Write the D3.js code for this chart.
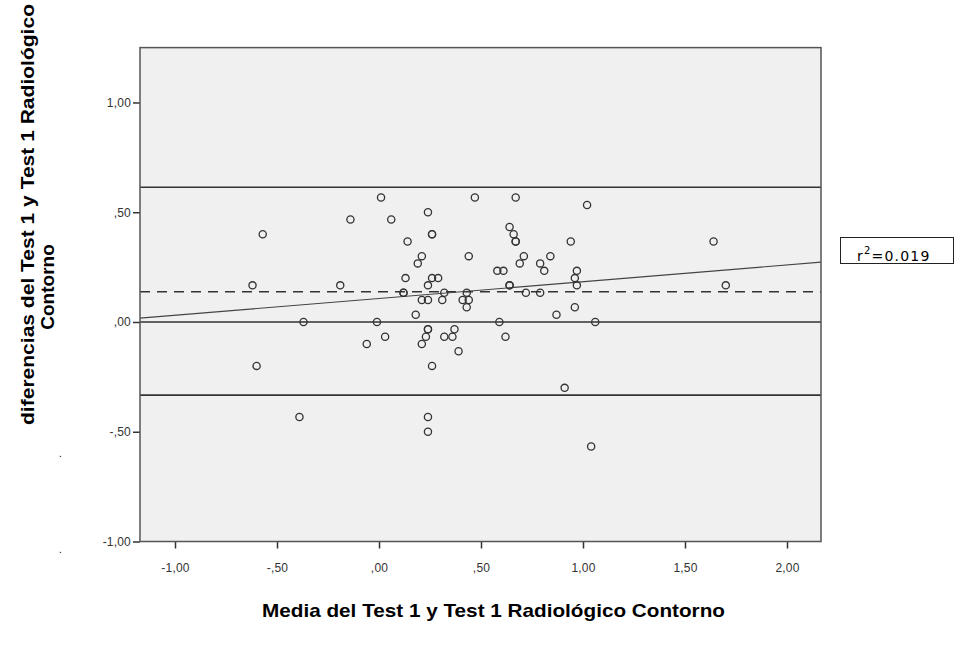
<!DOCTYPE html>
<html>
<head>
<meta charset="utf-8">
<script src="https://cdn.jsdelivr.net/npm/d3@7"></script>
<style>
  body { margin: 0; background: #fff; }
  svg { display: block; font-family: "Liberation Sans", Arial, sans-serif; }
</style>
</head>
<body>
<svg width="955" height="646"></svg>
<script>
// media de las dos pruebas (x) y diferencia (y)
const mediaX = [
  0.01, 0.47, 0.24, -0.14, 0.06, -0.57, 0.26, 0.26, 0.14, 0.21, 0.44, 0.19,
  0.13, 0.26, 0.29, -0.62, -0.19, 0.24, 0.12, 0.12, 0.32, 0.43, 0.21, 0.24,
  0.31, 0.41, 0.44, 0.43, 0.18,
  0.67, 1.02, 0.64, 0.66, 0.67, 0.67, 0.94, 1.64, 0.71, 0.84, 0.69, 0.79,
  0.58, 0.61, 0.81, 0.97, 0.96, 0.64, 0.64, 0.97, 1.70, 0.72, 0.79, 0.96, 0.87,
  -0.37, -0.01, 0.59, 1.06, 0.24, 0.24, 0.37, 0.03, 0.23, 0.32, 0.36, 0.62,
  -0.06, 0.21, 0.39, -0.60, 0.26, 0.91, -0.39, 0.24, 0.24, 1.04
];
const diferencia = [
  0.567, 0.567, 0.5, 0.467, 0.467, 0.4, 0.4, 0.4, 0.367, 0.3, 0.3, 0.267,
  0.2, 0.2, 0.2, 0.167, 0.167, 0.167, 0.133, 0.133, 0.133, 0.133, 0.1, 0.1,
  0.1, 0.1, 0.1, 0.067, 0.033,
  0.567, 0.533, 0.433, 0.4, 0.367, 0.367, 0.367, 0.367, 0.3, 0.3, 0.267, 0.267,
  0.233, 0.233, 0.233, 0.233, 0.2, 0.167, 0.167, 0.167, 0.167, 0.133, 0.133, 0.067, 0.033,
  0, 0, 0, 0, -0.033, -0.033, -0.033, -0.067, -0.067, -0.067, -0.067, -0.067,
  -0.1, -0.1, -0.133, -0.2, -0.2, -0.3, -0.433, -0.433, -0.5, -0.567
];

// lineas de referencia: limite superior, media, cero, limite inferior
const refValores = [0.614, 0.138, 0, -0.333];
const refTipo = ['solid', 'dash', 'solid', 'solid'];

// recta de regresion
const ajuste = [0.107, 0.0764]; // intercepto, pendiente
const r2Texto = '0.019';

const xTicks = [-1, -0.5, 0, 0.5, 1, 1.5, 2];
const yTicks = [-1, -0.5, 0, 0.5, 1];

const tituloX = 'Media del Test 1 y Test 1 Radiológico Contorno';
const tituloY1 = 'diferencias del Test 1 y Test 1 Radiológico';
const tituloY2 = 'Contorno';

const pLeft = 140, pRight = 821, pTop = 47.6, pBottom = 541.5;

const svg = d3.select('svg');

const x = d3.scaleLinear().domain([-1.1716, 2.1667]).range([pLeft, pRight]);
const y = d3.scaleLinear().domain([-1, 1.25]).range([pBottom, pTop]);

// formato SPSS: coma decimal y sin cero inicial
const fmt = v => (v < 0 ? '-' : '') + Math.abs(v).toFixed(2).replace('.', ',').replace(/^0,/, ',');

// fondo del area
svg.append('rect')
  .attr('x', pLeft).attr('y', pTop)
  .attr('width', pRight - pLeft).attr('height', pBottom - pTop)
  .attr('fill', '#f0f0f0');

// lineas de referencia
svg.selectAll('.ref')
  .data(refValores)
  .enter()
  .append('line')
  .attr('x1', pLeft).attr('x2', pRight)
  .attr('y1', d => y(d)).attr('y2', d => y(d))
  .attr('stroke', '#333')
  .attr('stroke-width', 1.6)
  .attr('stroke-dasharray', (d, i) => refTipo[i] == 'dash' ? '10,7' : null);

// regresion
const xd = x.domain();
svg.append('line')
  .attr('x1', x(xd[0])).attr('x2', x(xd[1]))
  .attr('y1', y(ajuste[0] + ajuste[1] * xd[0]))
  .attr('y2', y(ajuste[0] + ajuste[1] * xd[1]))
  .attr('stroke', '#444')
  .attr('stroke-width', 1.1);

// puntos
svg.selectAll('.pt')
  .data(mediaX.map((v, i) => [v, diferencia[i]]))
  .enter()
  .append('circle')
  .attr('cx', d => x(d[0]))
  .attr('cy', d => y(d[1]))
  .attr('r', 3.6)
  .attr('fill', 'none')
  .attr('stroke', '#333')
  .attr('stroke-width', 1.3);

// ejes
const gx = svg.append('g')
  .attr('transform', 'translate(0,' + pBottom + ')')
  .call(d3.axisBottom(x).tickValues(xTicks).tickFormat(fmt).tickSize(7).tickPadding(15));
const gy = svg.append('g')
  .attr('transform', 'translate(' + pLeft + ',0)')
  .call(d3.axisLeft(y).tickValues(yTicks).tickFormat(fmt).tickSize(7).tickPadding(2));

[gx, gy].forEach(g => {
  g.select('.domain').remove();
  g.selectAll('line').attr('stroke', '#333').attr('stroke-width', 1.5);
  g.selectAll('text').attr('fill', '#333').style('font-size', '12px')
    .style('font-family', '"Liberation Sans", Arial, sans-serif')
    .style('letter-spacing', '0.2px');
});

// marco
svg.append('rect')
  .attr('x', pLeft).attr('y', pTop)
  .attr('width', pRight - pLeft).attr('height', pBottom - pTop)
  .attr('fill', 'none')
  .attr('stroke', '#555')
  .attr('stroke-width', 1.5);

// titulos
svg.append('text')
  .attr('x', 262).attr('y', 617)
  .attr('textLength', 463).attr('lengthAdjust', 'spacingAndGlyphs')
  .style('font-size', '19px').style('font-weight', 'bold')
  .text(tituloX);

svg.append('text')
  .attr('transform', 'translate(34,425) rotate(-90)')
  .attr('textLength', 421).attr('lengthAdjust', 'spacingAndGlyphs')
  .style('font-size', '19px').style('font-weight', 'bold')
  .text(tituloY1);
svg.append('text')
  .attr('transform', 'translate(54,287) rotate(-90)')
  .attr('text-anchor', 'middle')
  .style('font-size', '19px').style('font-weight', 'bold')
  .text(tituloY2);

// puntos sueltos a la izquierda
svg.selectAll('.dot')
  .data([0, 1])
  .enter()
  .append('text')
  .attr('x', 59).attr('y', (d, i) => i ? 553 : 457)
  .attr('fill', '#000')
  .style('font-size', '10px')
  .text('.');

// caja r2
svg.append('rect')
  .attr('x', 840.5).attr('y', 237.5)
  .attr('width', 113).attr('height', 26)
  .attr('fill', '#fff').attr('stroke', '#222').attr('stroke-width', 1);
const r2 = svg.append('text')
  .attr('x', 857).attr('y', 261)
  .style('font-family', '"DejaVu Sans", Verdana, sans-serif')
  .style('font-size', '14px')
  .style('letter-spacing', '1.2px');
r2.append('tspan').text('r');
r2.append('tspan').attr('dy', -7).style('font-size', '10px').text('2');
r2.append('tspan').attr('dy', 7).text('=' + r2Texto);
</script>
</body>
</html>
